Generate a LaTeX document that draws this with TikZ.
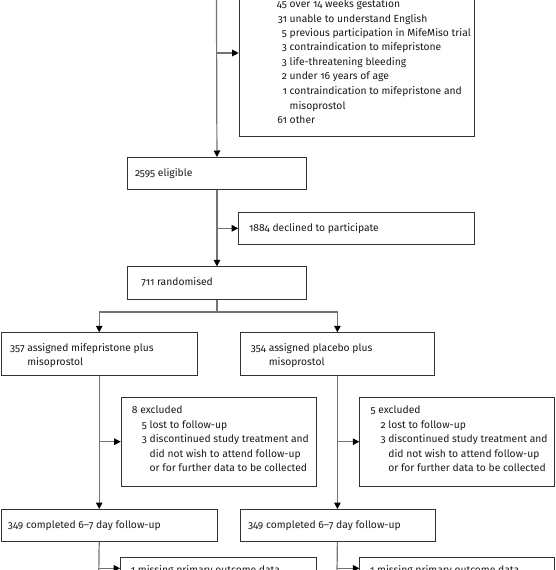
\documentclass[tikz,border=0pt]{standalone}
\usepackage{fontspec}
\setmainfont{Fira Sans}[Numbers=OldStyle]
\usetikzlibrary{arrows.meta}
\begin{document}
\begin{tikzpicture}[x=1pt,y=-1pt,
  box/.style={draw=black!80, line width=1pt, rectangle, inner sep=0pt, anchor=north west},
  txt/.style={anchor=base west, inner sep=0pt, font=\fontsize{10.3}{14.5}\selectfont, text=black!90},
  conn/.style={draw=black!55, line width=1.2pt},
  arr/.style={conn, -{Triangle[length=6.5pt,width=6.5pt,color=black]}}]
\useasboundingbox (0,0) rectangle (555,570);
\begin{scope}
\clip (0,0) rectangle (555,570);
% boxes
\node[box, minimum width=235.6pt, minimum height=145.5pt] (top) at (238.7,-10) {};
\node[box, minimum width=179.5pt, minimum height=31.8pt] (elig) at (126.7,157) {};
\node[box, minimum width=236.1pt, minimum height=31.8pt] (decl) at (238.2,211.9) {};
\node[box, minimum width=179.5pt, minimum height=32.2pt] (rand) at (126.7,266.4) {};
\node[box, minimum width=196pt, minimum height=42.7pt] (armA) at (0.7,332.3) {};
\node[box, minimum width=194.8pt, minimum height=42.7pt] (armB) at (239.5,332.3) {};
\node[box, minimum width=195pt, minimum height=89pt] (exclA) at (120.7,396.7) {};
\node[box, minimum width=195pt, minimum height=89pt] (exclB) at (359.3,396.7) {};
\node[box, minimum width=216pt, minimum height=32pt] (compA) at (0.6,509) {};
\node[box, minimum width=195.4pt, minimum height=32pt] (compB) at (239.6,509) {};
\node[box, minimum width=195.7pt, minimum height=30pt] (missA) at (120,556.7) {};
\node[box, minimum width=195pt, minimum height=30pt] (missB) at (359.3,556.7) {};
% texts
\node[txt] (top-t) at (276.7,7.5) {\begin{tabular}[t]{@{}r@{\ }l@{}}
45 & over 14 weeks gestation\\
31 & unable to understand English\\
5 & previous participation in MifeMiso trial\\
3 & contraindication to mifepristone\\
3 & life-threatening bleeding\\
2 & under 16 years of age\\
1 & contraindication to mifepristone and\\
 & misoprostol\\
61 & other
\end{tabular}};
\node[txt] (elig-t) at (134.9,176.5) {2595 eligible};
\node[txt] (decl-t) at (248.8,231.5) {1884 declined to participate};
\node[txt] (rand-t) at (141.2,285.8) {711 randomised};
\node[txt] (armA-t) at (10,351.2) {\begin{tabular}[t]{@{}r@{\ }l@{}}
357 & assigned mifepristone plus\\
 & misoprostol
\end{tabular}};
\node[txt] (armB-t) at (250.7,351.2) {\begin{tabular}[t]{@{}r@{\ }l@{}}
354 & assigned placebo plus\\
 & misoprostol
\end{tabular}};
\node[txt] (exclA-t) at (131.7,413.5) {\begin{tabular}[t]{@{\hspace{10pt}}r@{\ }l@{}}
\multicolumn{2}{@{}l@{}}{8 excluded}\\
5 & lost to follow-up\\
3 & discontinued study treatment and\\
 & did not wish to attend follow-up\\
 & or for further data to be collected
\end{tabular}};
\node[txt] (exclB-t) at (370.3,413.5) {\begin{tabular}[t]{@{\hspace{10pt}}r@{\ }l@{}}
\multicolumn{2}{@{}l@{}}{5 excluded}\\
2 & lost to follow-up\\
3 & discontinued study treatment and\\
 & did not wish to attend follow-up\\
 & or for further data to be collected
\end{tabular}};
\node[txt] (compA-t) at (7.8,528.5) {349 completed 6–7 day follow-up};
\node[txt] (compB-t) at (247.8,528.5) {349 completed 6–7 day follow-up};
\node[txt] (missA-t) at (130.7,573.5) {1 missing primary outcome data};
\node[txt] (missB-t) at (369.9,573.5) {1 missing primary outcome data};
% connectors
\coordinate (src) at (216.45,-5);
\draw[arr] (src) -- (elig.north);
\coordinate (j1) at (216.45,53);
\draw[arr] (j1) -- (j1 -| top.west);
\draw[arr] (elig.south) -- (rand.north);
\draw[arr] (elig.south |- decl.west) -- (decl.west);
\draw[conn] (rand.south) -- ++(0,12.4) coordinate (split);
\draw[arr] (split) -| (armA.north);
\draw[arr] (split) -| (armB.north);
\draw[arr] (armA.south) -- (armA.south |- compA.north);
\draw[arr] (armA.south |- exclA.west) -- (exclA.west);
\draw[arr] (armB.south) -- (armB.south |- compB.north);
\draw[arr] (armB.south |- exclB.west) -- (exclB.west);
\coordinate (endA) at (98.7,580);
\coordinate (endB) at (336.9,580);
\draw[conn] (armA.south |- compA.south) -- (endA);
\draw[conn] (armB.south |- compB.south) -- (endB);
\coordinate (mA) at (98.7,568.3);
\coordinate (mB) at (336.9,568.3);
\draw[arr] (mA) -- (mA -| missA.west);
\draw[arr] (mB) -- (mB -| missB.west);
\end{scope}
\end{tikzpicture}
\end{document}
